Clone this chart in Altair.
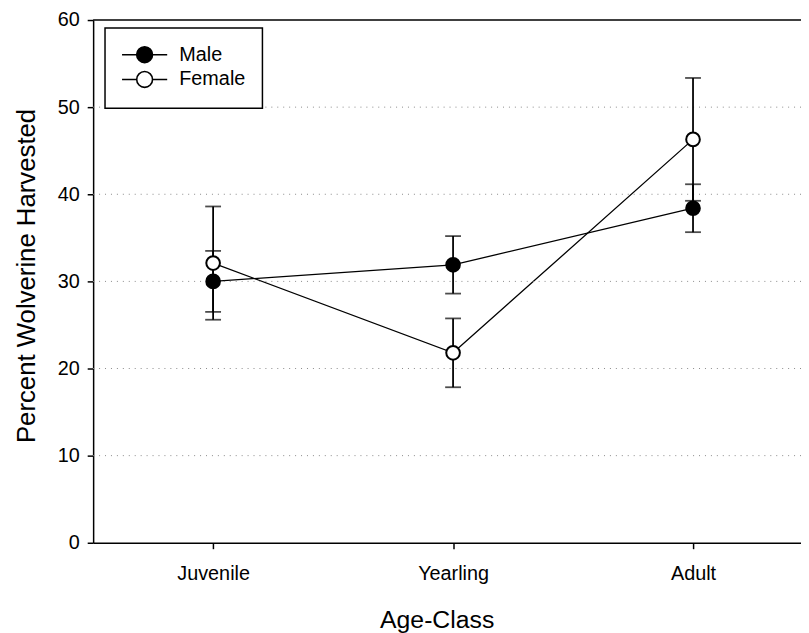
import altair as alt
import pandas as pd

categories = ["Juvenile", "Yearling", "Adult"]
series = ["Male", "Female"]
male_mean = [30.0, 31.9, 38.4]
male_err = [3.5, 3.3, 2.75]
female_mean = [32.1, 21.8, 46.3]
female_err = [6.5, 3.95, 7.05]
y_ticks = [0, 10, 20, 30, 40, 50, 60]
grid_values = [10, 20, 30, 40, 50]

rows = []
for i, c in enumerate(categories):
    rows.append({"pos": i + 1, "cat": c, "sex": "Male", "mean": male_mean[i],
                 "lo": male_mean[i] - male_err[i], "hi": male_mean[i] + male_err[i], "order": 1})
for i, c in enumerate(categories):
    rows.append({"pos": i + 1, "cat": c, "sex": "Female", "mean": female_mean[i],
                 "lo": female_mean[i] - female_err[i], "hi": female_mean[i] + female_err[i], "order": 0})
df = pd.DataFrame(rows)

label_expr = " : ".join(
    [f"datum.value == {i + 1} ? '{c}'" for i, c in enumerate(categories)]) + " : ''"

FONT = "Liberation Sans"

x_scale = alt.Scale(domain=[0.5, 3.45], nice=False, zero=False)
y_scale = alt.Scale(domain=[0, 60], nice=False)

x_axis = alt.Axis(values=[1, 2, 3], labelExpr=label_expr, title="Age-Class",
                  grid=False, tickSize=6, labelPadding=15, titlePadding=25,
                  labelFontSize=20, titleFontSize=25, labelColor="black",
                  titleColor="black", titleFontWeight="normal", titleX=347,
                  domainColor="black", tickColor="black", domainWidth=1.5,
                  tickWidth=1.5, labelFont=FONT, titleFont=FONT)
y_axis = alt.Axis(values=y_ticks, title="Percent Wolverine Harvested", grid=False,
                  tickSize=6, labelPadding=8, titlePadding=18,
                  labelFontSize=20, titleFontSize=26, labelColor="black",
                  titleColor="black", titleFontWeight="normal", titleY=258,
                  domainColor="black", tickColor="black", domainWidth=1.5,
                  tickWidth=1.5, labelFont=FONT, titleFont=FONT)

base = alt.Chart(df).mark_line(color="black", strokeWidth=1.3).encode(
    x=alt.X("pos:Q", scale=x_scale, axis=x_axis),
    y=alt.Y("mean:Q", scale=y_scale, axis=y_axis),
    detail="sex:N", order="pos:Q")

grid_df = pd.DataFrame({"g": grid_values})
grid = alt.Chart(grid_df).mark_rule(color="#8a8a8a", strokeWidth=1, strokeDash=[1, 5]).encode(
    y=alt.Y("g:Q", scale=y_scale))

top = alt.Chart(pd.DataFrame({"t": [60]})).mark_rule(color="black", strokeWidth=1.5).encode(
    y=alt.Y("t:Q", scale=y_scale))

err = alt.Chart(df).mark_rule(color="black", strokeWidth=1.8).encode(
    x=alt.X("pos:Q", scale=x_scale), y=alt.Y("lo:Q", scale=y_scale), y2="hi:Q")
cap_lo = alt.Chart(df).mark_tick(color="black", orient="horizontal", size=16, thickness=1.8).encode(
    x=alt.X("pos:Q", scale=x_scale), y=alt.Y("lo:Q", scale=y_scale))
cap_hi = alt.Chart(df).mark_tick(color="black", orient="horizontal", size=16, thickness=1.8).encode(
    x=alt.X("pos:Q", scale=x_scale), y=alt.Y("hi:Q", scale=y_scale))

legend_path = ("M -2.85 0 L -1 0 M 1 0 L 2.85 0 "
               "M -1 0 A 1 1 0 1 0 1 0 A 1 1 0 1 0 -1 0 Z")

points = alt.Chart(df).mark_point(shape="circle", filled=True, size=190, stroke="black",
                                  strokeWidth=2, opacity=1).encode(
    x=alt.X("pos:Q", scale=x_scale),
    y=alt.Y("mean:Q", scale=y_scale),
    fill=alt.Fill("sex:N", scale=alt.Scale(domain=series, range=["black", "white"]),
                  legend=alt.Legend(title=None, orient="none", legendX=12, legendY=8,
                                    symbolType=legend_path, symbolSize=256,
                                    symbolStrokeColor="black", symbolStrokeWidth=1.6,
                                    symbolOffset=13, labelOffset=25, padding=17,
                                    rowPadding=1, labelFontSize=20, labelFont=FONT,
                                    labelColor="black", strokeColor="black",
                                    fillColor="white", symbolFillColor="white")),
    order=alt.Order("order:Q"),
)

chart = alt.layer(base, grid, top, err, cap_lo, cap_hi, points).properties(
    width=715, height=528,
    autosize=alt.AutoSizeParams(type="none"),
    padding={"left": 86, "top": 9, "right": 0, "bottom": 88},
).configure_view(stroke=None).configure_legend(strokeWidth=1.5)

chart.save("out.html", embed_options={"renderer": "svg", "actions": False})
